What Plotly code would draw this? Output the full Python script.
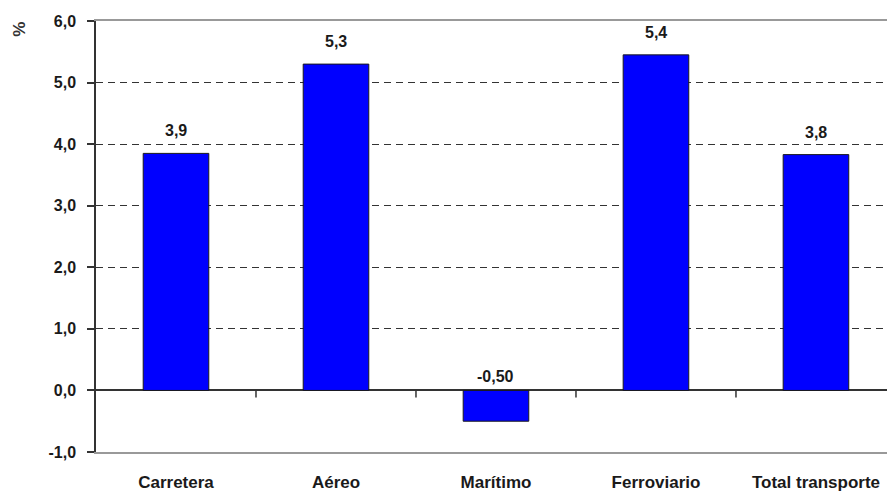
import plotly.graph_objects as go

categories = ["Carretera", "Aéreo", "Marítimo", "Ferroviario", "Total transporte"]
values = [3.85, 5.3, -0.5, 5.45, 3.83]
value_labels = ["3,9", "5,3", "-0,50", "5,4", "3,8"]
ytick_vals = [-1, 0, 1, 2, 3, 4, 5, 6]
ytick_text = ["-1,0", "0,0", "1,0", "2,0", "3,0", "4,0", "5,0", "6,0"]

FONT = "Liberation Sans, Arial, sans-serif"
xs = list(range(len(categories)))

fig = go.Figure()
fig.add_trace(go.Bar(
    x=xs, y=values, width=0.41,
    marker=dict(color="#0000FF", line=dict(color="#1a1a1a", width=1)),
    hoverinfo="skip", showlegend=False,
))

for x, v, t in zip(xs, values, value_labels):
    fig.add_annotation(x=x, y=max(v, 0), xref="x", yref="y", text=f"<b>{t}</b>",
                       showarrow=False, yanchor="bottom", yshift=12 if v > 0 else 3,
                       font=dict(family=FONT, size=16, color="#1a1a1a"))

# tick marks on zero line between categories
for b in [i + 0.5 for i in range(len(categories) - 1)]:
    fig.add_shape(type="line", xref="x", yref="y", x0=b, x1=b,
                  ysizemode="pixel", yanchor=0, y0=0, y1=-7,
                  line=dict(color="#333333", width=1.5))

fig.add_annotation(text="<b>%</b>", xref="paper", yref="paper", x=-0.096, y=0.98,
                   showarrow=False, textangle=-90, xanchor="center", yanchor="middle",
                   font=dict(family=FONT, size=17, color="#333333"))

fig.update_layout(
    width=887, height=495,
    margin=dict(l=96, r=0, t=21, b=43),
    paper_bgcolor="white", plot_bgcolor="white",
    xaxis=dict(
        range=[-0.5, 4.444], tickmode="array", tickvals=xs,
        ticktext=[f"<b>{c}</b>" for c in categories],
        tickfont=dict(family=FONT, size=17, color="#1a1a1a"),
        showgrid=False, zeroline=False, ticks="",
        showline=True, linecolor="#999999", linewidth=1.5, mirror=True,
        ticklabelstandoff=14,
    ),
    yaxis=dict(
        range=[-1, 6], tickmode="array", tickvals=ytick_vals, ticktext=[f"<b>{t}</b>" for t in ytick_text],
        tickfont=dict(family=FONT, size=16, color="#1a1a1a"),
        showgrid=True, gridcolor="#333333", gridwidth=1.3, griddash="7px,5px",
        zeroline=True, zerolinecolor="#333333", zerolinewidth=1.5,
        showline=True, linecolor="#333333", linewidth=1.5,
        ticks="outside", ticklen=7, tickcolor="#333333", tickwidth=1.5,
        ticklabelstandoff=8,
    ),
)

fig.write_html("out.html")
